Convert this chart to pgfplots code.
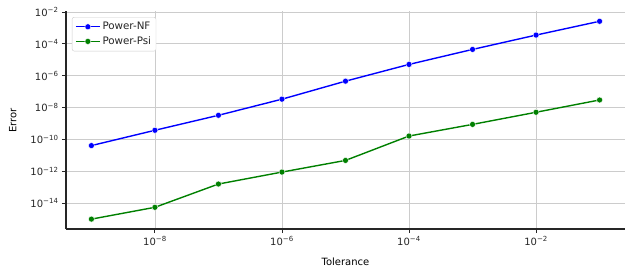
\documentclass[border=0pt]{standalone}
\usepackage{fontspec}
\setmainfont{DejaVu Sans}
\usepackage{pgfplots}
\pgfplotsset{compat=1.18}
\definecolor{txt}{HTML}{262626}
\definecolor{gridc}{HTML}{CCCCCC}
\definecolor{nfblue}{HTML}{0000FF}
\definecolor{psigreen}{HTML}{008000}
\begin{document}
\begin{tikzpicture}
\begin{axis}[
  scale only axis, width=559pt, height=217.6pt,
  xmode=log, ymode=log,
  xmin=3.98e-10, xmax=0.2512, ymin=2.45e-16, ymax=1.084e-2,
  axis x line*=bottom, axis y line*=left,
  axis line style={-, draw=txt, line width=1.1pt},
  tick align=outside, major tick length=4pt,
  tick style={draw=txt, line width=0.9pt},
  grid=major, major grid style={draw=gridc, line width=0.8pt},
  xtick={1e-8,1e-6,1e-4,1e-2},
  xticklabels={10\textsuperscript{−8},10\textsuperscript{−6},10\textsuperscript{−4},10\textsuperscript{−2}},
  ytick={1e-14,1e-12,1e-10,1e-8,1e-6,1e-4,1e-2},
  yticklabels={10\textsuperscript{−14},10\textsuperscript{−12},10\textsuperscript{−10},10\textsuperscript{−8},10\textsuperscript{−6},10\textsuperscript{−4},10\textsuperscript{−2}},
  minor xtick={}, minor ytick={},
  tick label style={font=\fontsize{10}{12}\selectfont, text=txt},
  label style={font=\fontsize{11.3}{13}\selectfont, text=txt},
  xlabel={Tolerance}, ylabel={Error},
  every axis x label/.style={at={(axis description cs:0.5,-0.152)},anchor=center},
  every axis y label/.style={at={(axis description cs:-0.095,0.5)},rotate=90,anchor=center},
  legend style={at={(0.0107,0.974)}, anchor=north west, draw=gridc, rounded corners=2pt,
    font=\fontsize{10.3}{12}\selectfont, text=txt, row sep=1.5pt, inner sep=3pt},
  legend cell align=left,
  legend image code/.code={\draw[mark repeat=2,mark phase=2] plot coordinates {(0cm,0cm)(12pt,0cm)(24pt,0cm)};},
]
\addplot[nfblue, line width=1.4pt, mark=*, mark size=3pt, mark options={draw=white, line width=0.4pt, fill=nfblue}]
  coordinates {(1e-9,4.17e-11) (1e-8,3.8e-10) (1e-7,3.31e-9) (1e-6,3.39e-8) (1e-5,4.57e-7)
               (1e-4,5.13e-6) (1e-3,4.47e-5) (1e-2,3.55e-4) (1e-1,2.6e-3)};
\addlegendentry{Power-NF}
\addplot[psigreen, line width=1.4pt, mark=*, mark size=3pt, mark options={draw=white, line width=0.4pt, fill=psigreen}]
  coordinates {(1e-9,1.02e-15) (1e-8,5.62e-15) (1e-7,1.62e-13) (1e-6,9.1e-13) (1e-5,4.9e-12)
               (1e-4,1.66e-10) (1e-3,8.9e-10) (1e-2,5.13e-9) (1e-1,3.02e-8)};
\addlegendentry{Power-Psi}
\end{axis}
\pgfresetboundingbox
\path (-66pt,-47pt) rectangle (564pt,229pt);
\end{tikzpicture}
\end{document}
